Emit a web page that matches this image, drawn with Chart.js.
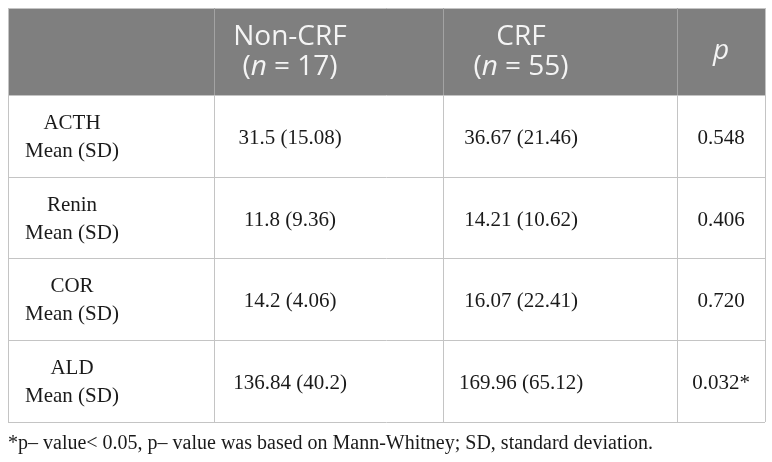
<!DOCTYPE html>
<html>
<head>
<meta charset="utf-8">
<script src="https://cdn.jsdelivr.net/npm/chart.js"></script>
<style>
  html, body { margin: 0; padding: 0; background: #ffffff; }
  #wrap { width: 772px; height: 462px; }
</style>
</head>
<body>
<div id="wrap"><canvas id="table-chart" width="772" height="462"></canvas></div>
<script>
// table data
const rowLabels = ['ACTH', 'Renin', 'COR', 'ALD'];
const groupLabels = ['Non-CRF', 'CRF'];
const groupSizes = [17, 55];
const nonCrfMean = [31.5, 11.8, 14.2, 136.84];
const nonCrfSd = [15.08, 9.36, 4.06, 40.2];
const crfMean = [36.67, 14.21, 16.07, 169.96];
const crfSd = [21.46, 10.62, 22.41, 65.12];
const pValues = [0.548, 0.406, 0.720, 0.032];
const footnote = '*p\u2013 value< 0.05, p\u2013 value was based on Mann-Whitney; SD, standard deviation.';

// layout (scale units = px inside the table box)
const colEdges = [0, 206, 435, 669, 757];
const textX = [64, 282, 513, 713];
const rowEdges = [0, 87, 169, 250, 332, 414];

const headerBg = '#7f7f7f';
const gridColor = '#c4c4c4';
const headerGrid = '#a3a3a3';
const sansFont = '"Open Sans", sans-serif';
const serifFont = '"Liberation Serif", "Times New Roman", serif';

document.addEventListener('DOMContentLoaded', () => {
    const canvas = document.getElementById('table-chart');

    // one anchor point per body cell, placed through the scales
    const anchors = [];
    rowLabels.forEach((label, i) => {
        const yMid = (rowEdges[i + 1] + rowEdges[i + 2]) / 2;
        textX.forEach(x => anchors.push({ x: x, y: yMid }));
    });

    const tablePlugin = {
        id: 'tablePlugin',
        beforeDatasetsDraw(chart) {
            const ctx = chart.ctx;
            const xs = chart.scales.x;
            const ys = chart.scales.y;
            const px = v => xs.getPixelForValue(v);
            const py = v => ys.getPixelForValue(v);
            const left = px(colEdges[0]), right = px(colEdges[colEdges.length - 1]);
            const top = py(rowEdges[0]), bottom = py(rowEdges[rowEdges.length - 1]);

            ctx.save();
            ctx.fillStyle = headerBg;
            ctx.fillRect(left, top, right - left, py(rowEdges[1]) - top);

            ctx.lineWidth = 1;
            // horizontal lines
            ctx.strokeStyle = gridColor;
            rowEdges.forEach(r => {
                const y = Math.round(py(r)) + 0.5;
                ctx.beginPath();
                ctx.moveTo(left, y);
                ctx.lineTo(right, y);
                ctx.stroke();
            });
            // vertical lines
            colEdges.forEach((c, idx) => {
                const x = Math.round(px(c)) + 0.5;
                const inner = idx > 0 && idx < colEdges.length - 1;
                ctx.strokeStyle = inner ? headerGrid : gridColor;
                ctx.beginPath();
                ctx.moveTo(x, top);
                ctx.lineTo(x, py(rowEdges[1]));
                ctx.stroke();
                ctx.strokeStyle = gridColor;
                ctx.beginPath();
                ctx.moveTo(x, py(rowEdges[1]));
                ctx.lineTo(x, bottom);
                ctx.stroke();
            });
            ctx.restore();
        },
        afterDatasetsDraw(chart) {
            const ctx = chart.ctx;
            const xs = chart.scales.x;
            const ys = chart.scales.y;
            const px = v => xs.getPixelForValue(v);
            const py = v => ys.getPixelForValue(v);

            ctx.save();
            ctx.textBaseline = 'alphabetic';

            // header
            ctx.fillStyle = '#f4f4f4';
            const headTop = py(rowEdges[0]);
            groupLabels.forEach((g, k) => {
                const cx = px(textX[k + 1]);
                ctx.font = '28px ' + sansFont;
                ctx.textAlign = 'center';
                ctx.fillText(g, cx, headTop + 37);
                // second line "(n = N)" with italic n
                const a = '(', b = 'n', c = ' = ' + groupSizes[k] + ')';
                ctx.font = '28px ' + sansFont;
                const wa = ctx.measureText(a).width;
                const wc = ctx.measureText(c).width;
                ctx.font = 'italic 28px ' + sansFont;
                const wb = ctx.measureText(b).width;
                let x0 = cx - (wa + wb + wc) / 2;
                ctx.textAlign = 'left';
                ctx.font = '28px ' + sansFont;
                ctx.fillText(a, x0, headTop + 67);
                ctx.font = 'italic 28px ' + sansFont;
                ctx.fillText(b, x0 + wa, headTop + 67);
                ctx.font = '28px ' + sansFont;
                ctx.fillText(c, x0 + wa + wb, headTop + 67);
            });
            ctx.font = 'italic 28px ' + sansFont;
            ctx.textAlign = 'center';
            ctx.fillText('p', px(textX[3]), headTop + 51);

            // body cells from the dataset points
            const pts = chart.getDatasetMeta(0).data;
            ctx.fillStyle = '#1a1a1a';
            ctx.font = '21px ' + serifFont;
            ctx.textAlign = 'center';
            rowLabels.forEach((label, i) => {
                const cells = pts.slice(i * 4, i * 4 + 4);
                const y = cells[0].y;
                ctx.fillText(label, cells[0].x, y - 7);
                ctx.fillText('Mean (SD)', cells[0].x, y + 21);
                ctx.fillText(nonCrfMean[i] + ' (' + nonCrfSd[i] + ')', cells[1].x, y + 8);
                ctx.fillText(crfMean[i] + ' (' + crfSd[i] + ')', cells[2].x, y + 8);
                const p = pValues[i].toFixed(3) + (pValues[i] < 0.05 ? '*' : '');
                ctx.fillText(p, cells[3].x, y + 8);
            });

            // footnote
            ctx.font = '20px ' + serifFont;
            ctx.textAlign = 'left';
            ctx.fillText(footnote, px(colEdges[0]), py(rowEdges[rowEdges.length - 1]) + 27);
            ctx.restore();
        }
    };

    new Chart(canvas, {
        type: 'scatter',
        data: {
            datasets: [{
                data: anchors,
                pointRadius: 0,
                pointHoverRadius: 0
            }]
        },
        options: {
            responsive: false,
            animation: false,
            events: [],
            layout: {
                padding: { left: 8, top: 8, right: 7, bottom: 40 }
            },
            scales: {
                x: { type: 'linear', display: false, min: colEdges[0], max: colEdges[colEdges.length - 1] },
                y: { type: 'linear', display: false, reverse: true, min: rowEdges[0], max: rowEdges[rowEdges.length - 1] }
            },
            plugins: {
                legend: { display: false },
                tooltip: { enabled: false },
                title: { display: false }
            }
        },
        plugins: [tablePlugin]
    });
});
</script>
</body>
</html>
